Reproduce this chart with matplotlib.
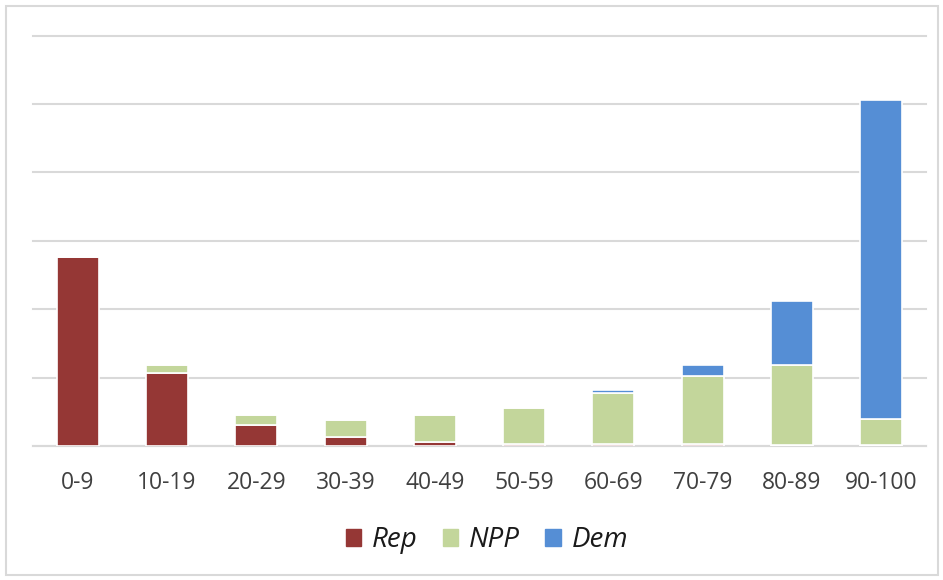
import matplotlib
matplotlib.use("Agg")
import matplotlib.pyplot as plt
from matplotlib.patches import Rectangle, Patch
import numpy as np

# score buckets and stacked counts (gridline step = 10)
categories = ["0-9", "10-19", "20-29", "30-39", "40-49",
              "50-59", "60-69", "70-79", "80-89", "90-100"]
rep = [27.6, 10.6, 3.0, 1.3, 0.6, 0.3, 0.3, 0.3, 0.2, 0.2]
npp = [0.0, 1.2, 1.5, 2.45, 3.9, 5.3, 7.4, 10.0, 11.6, 3.8]
dem = [0.0, 0.0, 0.0, 0.0, 0.0, 0.0, 0.5, 1.5, 9.4, 46.5]

C_REP = "#953735"
C_NPP = "#C3D69B"
C_DEM = "#558ED5"

plt.rcParams['font.family'] = ['Open Sans', 'DejaVu Sans']

fig = plt.figure(figsize=(9.43, 5.8), dpi=100)
ax = fig.add_axes([33 / 943, 134 / 580, 893 / 943, 410.5 / 580])

x = np.arange(len(categories))
w = 0.47
rep_a = np.array(rep)
npp_a = np.array(npp)
dem_a = np.array(dem)
ax.bar(x, rep_a, w, color=C_REP, edgecolor="white", linewidth=1.2, zorder=3)
ax.bar(x, npp_a, w, bottom=rep_a, color=C_NPP, edgecolor="white", linewidth=1.2, zorder=3)
ax.bar(x, dem_a, w, bottom=rep_a + npp_a, color=C_DEM, edgecolor="white", linewidth=1.2, zorder=3)

ax.set_xlim(-0.5, len(categories) - 0.5)
ax.set_ylim(0, 60)
ax.set_yticks(np.arange(0, 61, 10))
ax.yaxis.grid(True, color="#D9D9D9", linewidth=1.5, zorder=0)
for gl in ax.get_ygridlines():
    gl.set_clip_on(False)
ax.set_yticklabels([])
ax.tick_params(axis="y", length=0)
ax.tick_params(axis="x", length=0, pad=18, labelsize=16.5, labelcolor="#404040")
ax.set_xticks(x)
ax.set_xticklabels(categories)
for s in ["top", "right", "left"]:
    ax.spines[s].set_visible(False)
ax.spines["bottom"].set_color("#D9D9D9")
ax.spines["bottom"].set_linewidth(1.5)

handles = [Patch(color=C_REP, label="Rep"),
           Patch(color=C_NPP, label="NPP"),
           Patch(color=C_DEM, label="Dem")]
leg = fig.legend(handles=handles, loc="center", bbox_to_anchor=(487 / 943, 1 - 540 / 580),
                 ncol=3, frameon=False, handlelength=0.55, handleheight=0.55,
                 handletextpad=0.4, columnspacing=0.9,
                 prop={"style": "italic", "size": 20})
for t in leg.get_texts():
    t.set_color("#1a1a1a")

# light frame around the chart area
fig.patches.append(Rectangle((5.5 / 943, 5.5 / 580), 932 / 943, 569 / 580,
                             transform=fig.transFigure, fill=False,
                             edgecolor="#D9D9D9", linewidth=1.5))

fig.savefig("out.png", dpi=100)
